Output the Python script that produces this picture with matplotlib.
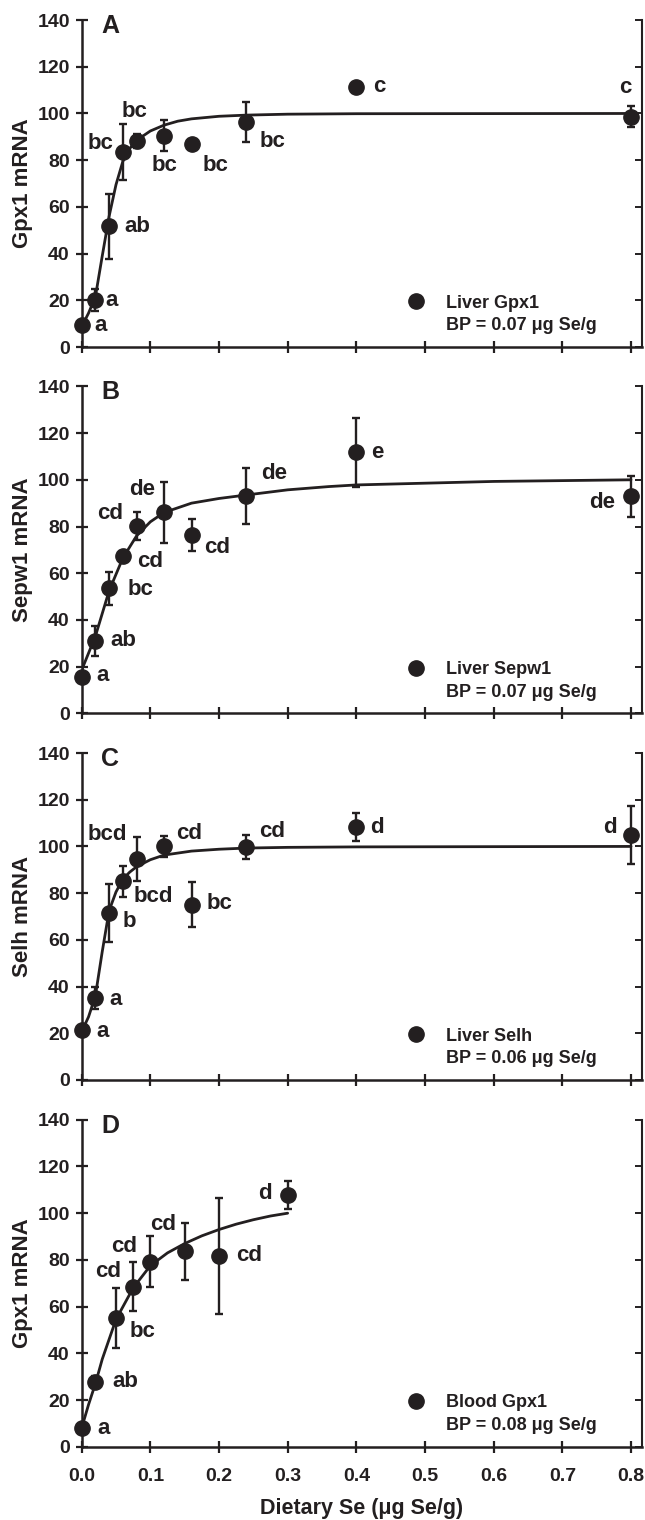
import matplotlib
matplotlib.use("Agg")
import matplotlib.pyplot as plt
from matplotlib.lines import Line2D
import numpy as np

plt.rcParams['font.family'] = ['Liberation Sans', 'DejaVu Sans']
plt.rcParams['font.weight'] = 'bold'
plt.rcParams['axes.labelweight'] = 'bold'

INK = '#231f20'

# ---------------- data ----------------
x_liver = [0, 0.02, 0.04, 0.06, 0.08, 0.12, 0.16, 0.24, 0.40, 0.80]
x_blood = [0, 0.02, 0.05, 0.075, 0.10, 0.15, 0.20, 0.30]

# Panel A: Liver Gpx1
a_y = [9.3, 20.3, 51.7, 83.6, 88.3, 90.4, 87.1, 96.4, 111.4, 98.6]
a_err = [0, 4.7, 13.8, 12.0, 3.0, 6.6, 0, 8.6, 0, 4.4]
a_letters = ['a', 'a', 'ab', 'bc', 'bc', 'bc', 'bc', 'bc', 'c', 'c']
a_lx = [0.028, 0.044, 0.081, 0.027, 0.077, 0.121, 0.195, 0.278, 0.434, 0.792]
a_ly = [9.0, 20.0, 51.4, 87.3, 101.0, 77.9, 77.9, 87.9, 111.4, 111.1]
a_fit_x = [0, 0.01, 0.02, 0.03, 0.04, 0.05, 0.06, 0.07, 0.08, 0.10, 0.12, 0.14, 0.16, 0.20, 0.24, 0.30, 0.40, 0.80]
a_fit_y = [8.7, 14.5, 21.5, 39.0, 56.0, 69.5, 79.5, 85.0, 88.5, 92.5, 95.0, 96.7, 97.7, 98.8, 99.3, 99.7, 99.9, 100.0]

# Panel B: Liver Sepw1
b_y = [15.7, 31.1, 53.6, 67.4, 80.3, 86.0, 76.4, 93.1, 111.7, 92.9]
b_err = [0, 6.4, 7.0, 2.0, 6.0, 13.0, 6.7, 12.0, 14.8, 8.7]
b_letters = ['a', 'ab', 'bc', 'cd', 'cd', 'de', 'cd', 'de', 'e', 'de']
b_lx = [0.031, 0.060, 0.085, 0.100, 0.042, 0.088, 0.197, 0.280, 0.431, 0.758]
b_ly = [16.0, 31.4, 53.1, 65.0, 85.7, 95.7, 71.0, 102.6, 111.7, 90.3]
b_fit_x = [0, 0.02, 0.04, 0.06, 0.08, 0.10, 0.12, 0.16, 0.20, 0.24, 0.30, 0.36, 0.40, 0.60, 0.80]
b_fit_y = [18.5, 33.0, 52.5, 66.5, 76.0, 82.0, 86.0, 90.0, 92.0, 93.5, 95.7, 97.1, 97.8, 99.3, 100.0]

# Panel C: Liver Selh
c_y = [21.4, 35.0, 71.4, 85.0, 94.6, 100.0, 75.0, 99.7, 108.3, 105.0]
c_err = [0, 4.7, 12.3, 6.7, 9.3, 4.6, 9.6, 5.0, 6.0, 12.4]
c_letters = ['a', 'a', 'b', 'bcd', 'bcd', 'cd', 'bc', 'cd', 'd', 'd']
c_lx = [0.031, 0.049, 0.070, 0.105, 0.038, 0.156, 0.201, 0.278, 0.430, 0.770]
c_ly = [20.7, 34.6, 67.9, 78.6, 105.0, 105.7, 75.4, 106.4, 108.3, 108.3]
c_fit_x = [0, 0.01, 0.02, 0.03, 0.04, 0.05, 0.06, 0.07, 0.08, 0.10, 0.12, 0.16, 0.20, 0.24, 0.30, 0.40, 0.80]
c_fit_y = [20.7, 27.0, 36.0, 55.0, 72.5, 80.5, 86.0, 89.0, 91.3, 94.3, 96.3, 98.0, 98.8, 99.3, 99.6, 99.8, 100.0]

# Panel D: Blood Gpx1
d_y = [7.9, 27.9, 55.0, 68.6, 79.3, 83.6, 81.7, 107.6]
d_err = [0, 2.6, 12.9, 10.6, 11.0, 12.0, 24.8, 6.0]
d_letters = ['a', 'ab', 'bc', 'cd', 'cd', 'cd', 'cd', 'd']
d_lx = [0.032, 0.064, 0.089, 0.039, 0.062, 0.118, 0.244, 0.267]
d_ly = [7.9, 27.9, 49.3, 75.0, 85.7, 95.0, 82.1, 108.6]
d_fit_x = [0, 0.01, 0.02, 0.03, 0.05, 0.075, 0.10, 0.125, 0.15, 0.175, 0.20, 0.225, 0.25, 0.275, 0.30]
d_fit_y = [8.0, 18.0, 27.0, 37.5, 54.5, 68.0, 77.5, 83.0, 87.0, 90.3, 93.0, 95.3, 97.2, 98.8, 100.0]

panel_tags = ['A', 'B', 'C', 'D']
y_labels = ['Gpx1 mRNA', 'Sepw1 mRNA', 'Selh mRNA', 'Gpx1 mRNA']
legend_names = ['Liver Gpx1', 'Liver Sepw1', 'Liver Selh', 'Blood Gpx1']
legend_bp = ['BP = 0.07 \u03bcg Se/g', 'BP = 0.07 \u03bcg Se/g',
             'BP = 0.06 \u03bcg Se/g', 'BP = 0.08 \u03bcg Se/g']
y_ticks = [0, 20, 40, 60, 80, 100, 120, 140]
x_ticks = [0.0, 0.1, 0.2, 0.3, 0.4, 0.5, 0.6, 0.7, 0.8]
x_tick_labels = ['0.0', '0.1', '0.2', '0.3', '0.4', '0.5', '0.6', '0.7', '0.8']
x_label = 'Dietary Se (\u03bcg Se/g)'

panels = [
    (x_liver, a_y, a_err, a_letters, a_lx, a_ly, a_fit_x, a_fit_y),
    (x_liver, b_y, b_err, b_letters, b_lx, b_ly, b_fit_x, b_fit_y),
    (x_liver, c_y, c_err, c_letters, c_lx, c_ly, c_fit_x, c_fit_y),
    (x_blood, d_y, d_err, d_letters, d_lx, d_ly, d_fit_x, d_fit_y),
]

# ---------------- layout ----------------
fig = plt.figure(figsize=(6.45, 15.2), dpi=100)
left, width, height = 0.1266, 0.8687, 0.2151
bottoms = [0.7717, 0.5307, 0.2895, 0.0482]

for i, (xs, ys, es, lets, lxs, lys, fx, fy) in enumerate(panels):
    ax = fig.add_axes([left, bottoms[i], width, height])
    ax.set_xlim(0, 0.816)
    ax.set_ylim(0, 140)

    ax.plot(fx, fy, color=INK, lw=2.0, zorder=3, solid_capstyle='round',
            solid_joinstyle='round')
    ax.errorbar(xs, ys, yerr=es, fmt='none', ecolor=INK, elinewidth=1.7,
                capsize=3.2, capthick=1.7, zorder=2)
    ax.plot(xs, ys, 'o', color=INK, ms=11, zorder=4, clip_on=False)

    for t, lx, ly in zip(lets, lxs, lys):
        ax.text(lx, ly, t, ha='center', va='center', fontsize=16,
                fontweight='bold', color=INK)

    ax.text(0.042, 137.5, panel_tags[i], ha='center', va='center',
            fontsize=18, fontweight='bold', color=INK, clip_on=False)

    for s in ['top', 'right']:
        ax.spines[s].set_visible(False)
    for s in ['left', 'bottom']:
        ax.spines[s].set_linewidth(1.8)
        ax.spines[s].set_color(INK)

    ax.set_yticks(y_ticks)
    ax.set_xticks(x_ticks)
    ax.set_xticklabels(x_tick_labels)
    ax.tick_params(axis='both', direction='inout', length=9, width=1.6,
                   colors=INK, labelsize=14, pad=4)
    if i < 3:
        ax.tick_params(axis='x', labelbottom=False)
    else:
        ax.tick_params(axis='x', pad=11)
        ax.set_xlabel(x_label, fontsize=15.5, fontweight='bold', color=INK,
                      labelpad=9)

    ax.set_ylabel(y_labels[i], fontsize=16, fontweight='bold', color=INK)
    ax.yaxis.set_label_coords(-0.0875, 0.5)

    sec = ax.secondary_yaxis('right')
    sec.set_yticks(y_ticks)
    sec.tick_params(direction='in', length=5, width=1.4, colors=INK,
                    labelright=False)
    sec.spines['right'].set_linewidth(1.5)
    sec.spines['right'].set_color(INK)

    h1 = Line2D([], [], marker='o', ls='none', color=INK, ms=11)
    h2 = Line2D([], [], ls='none')
    ax.legend([h1, h2], [legend_names[i], legend_bp[i]], loc='upper left',
              bbox_to_anchor=(0.58, 0.16), frameon=False,
              prop={'weight': 'bold', 'size': 13}, handlelength=1.0,
              handletextpad=1.2, borderpad=0, borderaxespad=0,
              labelspacing=0.32, labelcolor=INK)

fig.savefig('out.png', dpi=100)
